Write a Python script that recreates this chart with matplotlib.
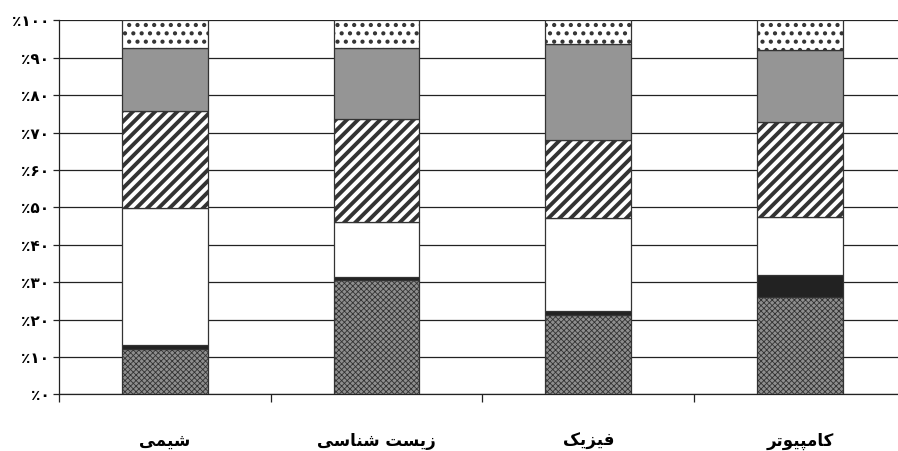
import numpy as np
import matplotlib
matplotlib.use('Agg')
import matplotlib.pyplot as plt

# دسته‌ها (شکل‌های نمایشی عربی، به ترتیب دیداری چپ به راست)
categories = [
    '\uFEF0\uFEE4\uFEF4\uFEB7',                                  # شیمی
    '\uFEF0\uFEB3\uFE8E\uFEE8\uFEB7 \uFE96\uFEB4\uFEF3\uFEAF',   # زیست شناسی
    '\uFB8F\uFEF3\uFEB0\uFEF4\uFED3',                            # فیزیک
    '\uFEAE\uFE97\uFEEE\uFEF4\uFB59\uFEE3\uFE8E\uFB90',          # کامپیوتر
]

# سهم هر بخش (درصد) از پایین به بالا
seg_crosshatch = [12.0, 30.6, 21.2, 26.1]
seg_black      = [1.2, 0.8, 1.1, 5.8]
seg_white      = [36.5, 14.6, 24.8, 15.6]
seg_diagonal   = [26.2, 27.6, 20.9, 25.4]
seg_gray       = [16.8, 19.1, 25.6, 19.3]
seg_dotted     = [7.3, 7.3, 6.4, 7.8]

ytick_vals = [0, 10, 20, 30, 40, 50, 60, 70, 80, 90, 100]
ytick_labels = ['٪۰', '٪۱۰', '٪۲۰', '٪۳۰', '٪۴۰', '٪۵۰',
                '٪۶۰', '٪۷۰', '٪۸۰', '٪۹۰', '٪۱۰۰']

fig = plt.figure(figsize=(8.98, 4.51), dpi=100)
ax = fig.add_axes([0.0657, 0.1257, 0.943, 0.829])

x = np.arange(len(categories))
w = 0.405
bottom = np.zeros(len(categories))

styles = [
    (seg_crosshatch, '#8e8e8e', 'xxxxxx', 0.6, '#3a3a3a'),
    (seg_black,      '#222222', None, 1.0, 'black'),
    (seg_white,      'white', None, 1.0, 'black'),
    (seg_diagonal,   'white', '///', 2.8, 'black'),
    (seg_gray,       '#959595', None, 1.0, 'black'),
    (seg_dotted,     'white', '..', 1.8, 'black'),
]

for vals, fc, hatch, hlw, hcol in styles:
    vals = np.array(vals)
    with plt.rc_context({'hatch.linewidth': hlw, 'hatch.color': hcol}):
        ax.bar(x, vals, w, bottom=bottom, color=fc, hatch=hatch,
               edgecolor='#333333', linewidth=0.9, zorder=3)
    bottom += vals

ax.set_xlim(-0.5, len(categories) - 0.5)
ax.set_ylim(0, 100)

ax.set_yticks(ytick_vals)
ax.set_yticklabels(ytick_labels, fontsize=11, fontweight='bold', family='DejaVu Sans')
ax.yaxis.grid(True, color='#222222', linewidth=0.9, zorder=0)
ax.tick_params(axis='y', length=4, width=0.9, pad=3, color='#222222')

ax.set_xticks(x)
ax.set_xticklabels(categories, fontsize=12, fontweight='bold', family='DejaVu Sans')
ax.tick_params(axis='x', which='major', length=0, pad=27)
ax.set_xticks(np.arange(-0.5, len(categories), 1.0), minor=True)
ax.tick_params(axis='x', which='minor', length=6, width=0.9, color='#222222')

for s in ['top', 'right']:
    ax.spines[s].set_visible(False)
for s in ['left', 'bottom']:
    ax.spines[s].set_color('#222222')
    ax.spines[s].set_linewidth(0.9)

fig.savefig('out.png', dpi=100)
